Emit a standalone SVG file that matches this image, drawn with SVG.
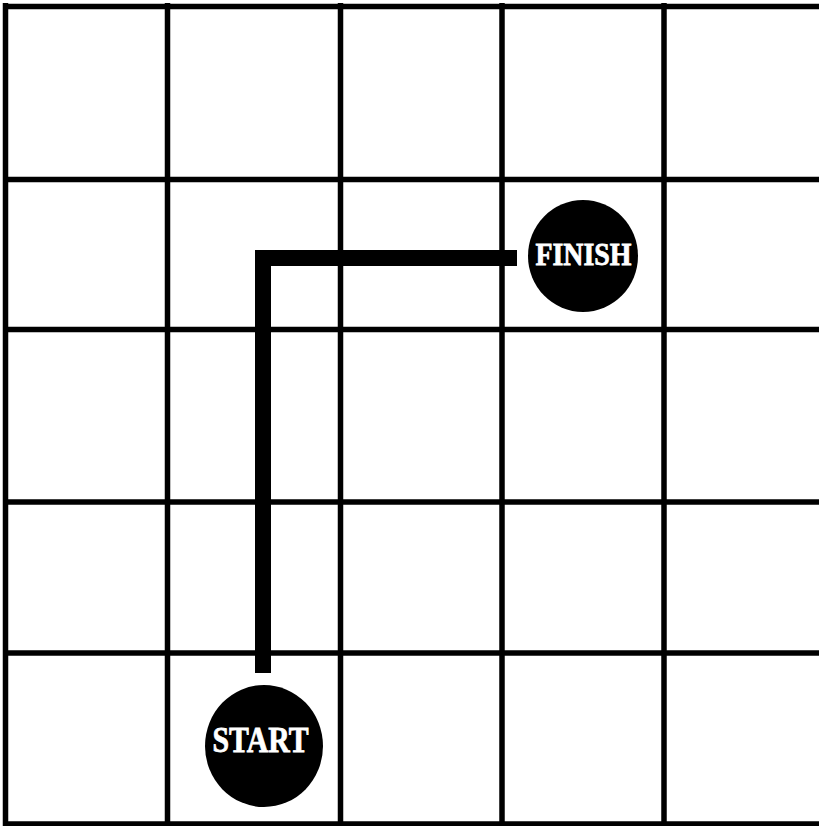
<svg xmlns="http://www.w3.org/2000/svg" width="819" height="826" viewBox="0 0 819 826">
<style>
.grid line{stroke:#000;stroke-width:5.5}
.lbl{font-family:"Liberation Serif","DejaVu Serif",serif;font-weight:bold;fill:#fff;stroke:#fff;stroke-width:0.8;text-anchor:middle}
</style>
<rect width="819" height="826" fill="#fff"/>
<g class="grid" id="grid">
<line x1="5.5" y1="3" x2="5.5" y2="826"/>
<line x1="167.5" y1="3" x2="167.5" y2="826"/>
<line x1="340.5" y1="3" x2="340.5" y2="826"/>
<line x1="502" y1="3" x2="502" y2="826"/>
<line x1="664" y1="3" x2="664" y2="826"/>
<line x1="3" y1="6.5" x2="819" y2="6.5"/>
<line x1="3" y1="179.5" x2="819" y2="179.5"/>
<line x1="3" y1="329.5" x2="819" y2="329.5"/>
<line x1="3" y1="502" x2="819" y2="502"/>
<line x1="3" y1="653" x2="819" y2="653"/>
<line x1="3" y1="824" x2="819" y2="824"/>
</g>
<g id="connectors">
<polyline points="263,673 263,258 517,258" fill="none" stroke="#000" stroke-width="16"/>
</g>
<g id="start">
<ellipse cx="264" cy="746" rx="59" ry="61" fill="#000"/>
<text class="lbl" x="260.5" y="752" font-size="35" textLength="96" lengthAdjust="spacingAndGlyphs">START</text>
</g>
<g id="finish">
<ellipse cx="583" cy="256" rx="55" ry="56" fill="#000"/>
<text class="lbl" x="583.5" y="265" font-size="32" textLength="96" lengthAdjust="spacingAndGlyphs">FINISH</text>
</g>
</svg>
